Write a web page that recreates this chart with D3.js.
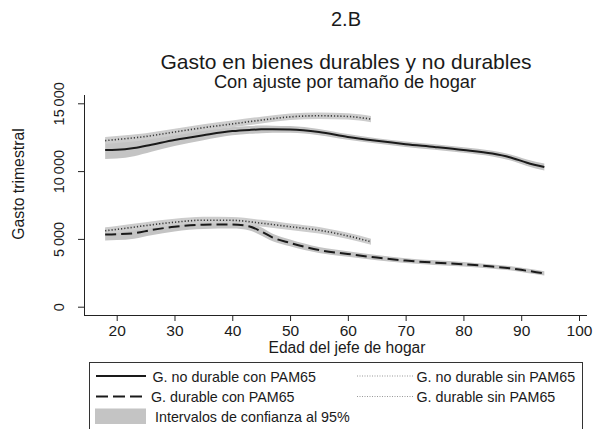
<!DOCTYPE html>
<html>
<head>
<meta charset="utf-8">
<script src="https://cdn.jsdelivr.net/npm/d3@7"></script>
<style>
    body { margin: 0; background: #fff; }
    svg { display: block; font-family: "Liberation Sans", Arial, sans-serif; }
</style>
</head>
<body>
<div class="vis1"></div>
<script>
// ages and values
var agesCon = [18, 20, 23, 26, 30, 35, 40, 43, 45, 47, 50, 55, 60, 65, 70, 75, 80, 85, 88, 91, 94];
var noDurCon = [11550, 11570, 11700, 11950, 12300, 12650, 12950, 13040, 13080, 13090, 13070, 12880, 12520, 12230, 11980, 11780, 11560, 11290, 11020, 10620, 10300];
var noDurConCi = [650, 640, 600, 520, 450, 370, 310, 290, 280, 260, 250, 230, 210, 200, 200, 200, 200, 210, 220, 240, 260];
var durCon = [5330, 5350, 5420, 5650, 5900, 6050, 6060, 5920, 5550, 5100, 4700, 4180, 3890, 3620, 3400, 3250, 3130, 2960, 2840, 2650, 2460];
var durConCi = [450, 440, 400, 380, 350, 320, 300, 300, 300, 280, 250, 220, 200, 190, 180, 170, 170, 160, 160, 160, 150];

var agesSin = [18, 20, 25, 30, 35, 40, 45, 50, 55, 60, 64];
var noDurSin = [12250, 12330, 12550, 12880, 13200, 13480, 13760, 14000, 14080, 14030, 13830];
var durSin = [5600, 5700, 5980, 6230, 6380, 6370, 6160, 5900, 5640, 5220, 4790];
var sinCi = [260, 260, 250, 250, 250, 250, 250, 240, 240, 230, 230];

var xTicks = [20, 30, 40, 50, 60, 70, 80, 90, 100];
var yTicks = [0, 5000, 10000, 15000];

var width = 593, height = 429;

var svg = d3.select(".vis1")
    .append("svg")
    .attr("width", width)
    .attr("height", height);

var x = d3.scaleLinear().domain([20, 100]).range([116.7, 579]);
var y = d3.scaleLinear().domain([0, 15000]).range([306.7, 103.3]);

function rows(ages, vals, ci) {
    return ages.map(function (a, i) {
        return { age: a, v: vals[i], lo: vals[i] - ci[i], hi: vals[i] + ci[i] };
    });
}

var series = [
    { data: rows(agesCon, noDurCon, noDurConCi), dash: null, color: "#1a1a1a", w: 2, band: "#c4c4c4" },
    { data: rows(agesCon, durCon, durConCi), dash: "11,5", color: "#1a1a1a", w: 2, band: "#c4c4c4" },
    { data: rows(agesSin, noDurSin, sinCi), dash: "1.2,2", color: "#3a3a3a", w: 1.6, band: "#cdcdcd" },
    { data: rows(agesSin, durSin, sinCi), dash: "1.2,2", color: "#3a3a3a", w: 1.6, band: "#cdcdcd" }
];

var area = d3.area()
    .x(d => x(d.age))
    .y0(d => y(d.lo))
    .y1(d => y(d.hi))
    .curve(d3.curveMonotoneX);

var line = d3.line()
    .x(d => x(d.age))
    .y(d => y(d.v))
    .curve(d3.curveMonotoneX);

// bands first, lines on top
series.forEach(function (s) {
    svg.append("path")
        .datum(s.data)
        .attr("d", area)
        .style("fill", s.band);
});
series.forEach(function (s) {
    svg.append("path")
        .datum(s.data)
        .attr("d", line)
        .style("fill", "none")
        .style("stroke", s.color)
        .style("stroke-width", s.w)
        .style("stroke-dasharray", s.dash);
});

// axes
var xAxis = svg.append("g")
    .attr("transform", "translate(0,315)")
    .call(d3.axisBottom(x).tickValues(xTicks).tickSize(6).tickPadding(4).tickSizeOuter(0));
xAxis.select(".domain").attr("d", "M84,0.5H587");
xAxis.selectAll("text").style("font-size", "15.5px").style("fill", "#1a1a1a");

var yAxis = svg.append("g")
    .attr("transform", "translate(84,0)")
    .call(d3.axisLeft(y).tickValues(yTicks).tickSize(6).tickSizeOuter(0)
        .tickFormat(d => d3.format(",")(d).replace(",", "\u2009")));
yAxis.select(".domain").attr("d", "M0.5,95V315");
yAxis.selectAll("text")
    .attr("x", null).attr("dy", null)
    .attr("transform", "translate(-20,0) rotate(-90)")
    .attr("text-anchor", "middle")
    .style("font-size", "14.5px")
    .style("fill", "#1a1a1a");
svg.selectAll(".domain, .tick line").style("stroke", "#222");

// titles
svg.append("text").attr("x", 346).attr("y", 26).attr("text-anchor", "middle")
    .style("font-size", "20px").style("fill", "#1a1a1a").text("2.B");
svg.append("text").attr("x", 346).attr("y", 69).attr("text-anchor", "middle")
    .style("font-size", "21px").style("fill", "#1a1a1a").text("Gasto en bienes durables y no durables");
svg.append("text").attr("x", 345).attr("y", 88).attr("text-anchor", "middle")
    .style("font-size", "18.3px").style("fill", "#1a1a1a").text("Con ajuste por tamaño de hogar");
svg.append("text").attr("x", 347).attr("y", 352.5).attr("text-anchor", "middle")
    .style("font-size", "15.6px").style("fill", "#1a1a1a").text("Edad del jefe de hogar");
svg.append("text").attr("transform", "translate(24,184) rotate(-90)").attr("text-anchor", "middle")
    .style("font-size", "15.8px").style("fill", "#1a1a1a").text("Gasto trimestral");

// legend
var leg = svg.append("g");
leg.append("rect")
    .attr("x", 89.5).attr("y", 362.5).attr("width", 493).attr("height", 80)
    .style("fill", "#fff").style("stroke", "#333").style("stroke-width", 1);

var legItems = [
    { label: "G. no durable con PAM65", x0: 96, x1: 146, tx: 152.5, cy: 376, dash: null, color: "#1a1a1a", w: 2 },
    { label: "G. durable con PAM65", x0: 96, x1: 146, tx: 151, cy: 396.5, dash: "12,5", color: "#1a1a1a", w: 2 },
    { label: "G. no durable sin PAM65", x0: 357, x1: 413, tx: 416.5, cy: 376, dash: "1,1.5", color: "#999", w: 1.2 },
    { label: "G. durable sin PAM65", x0: 357, x1: 413, tx: 416.5, cy: 396.5, dash: "1,1.5", color: "#999", w: 1.2 }
];
legItems.forEach(function (d) {
    leg.append("line")
        .attr("x1", d.x0).attr("x2", d.x1).attr("y1", d.cy).attr("y2", d.cy)
        .style("stroke", d.color).style("stroke-width", d.w).style("stroke-dasharray", d.dash);
    leg.append("text").attr("x", d.tx).attr("y", d.cy + 5.5)
        .style("font-size", "14.3px").style("fill", "#1a1a1a").text(d.label);
});
leg.append("rect")
    .attr("x", 95).attr("y", 408.5).attr("width", 51).attr("height", 15.5)
    .style("fill", "#c4c4c4");
leg.append("text").attr("x", 155).attr("y", 421.5)
    .style("font-size", "14.3px").style("fill", "#1a1a1a").text("Intervalos de confianza al 95%");
</script>
</body>
</html>
